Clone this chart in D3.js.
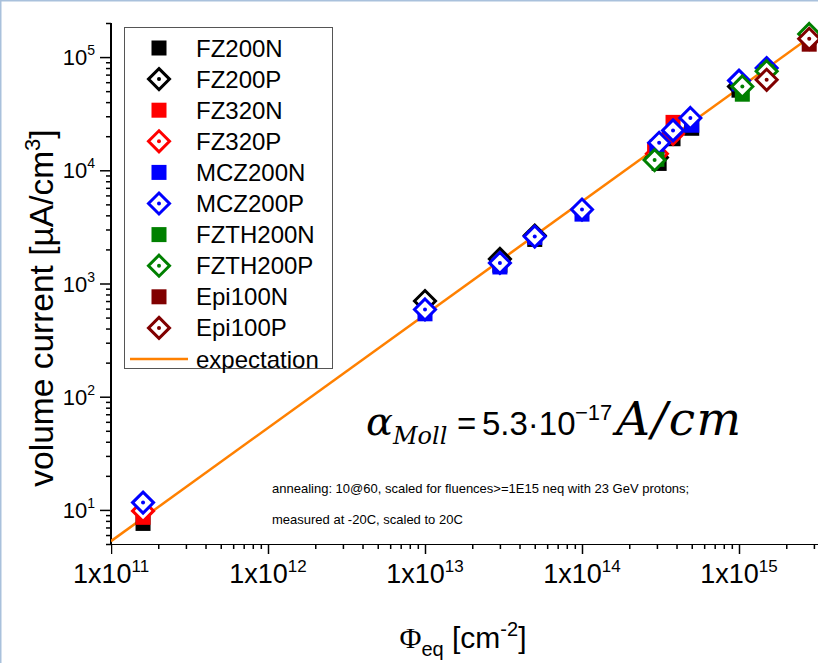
<!DOCTYPE html>
<html>
<head>
<meta charset="utf-8">
<script src="https://cdn.jsdelivr.net/npm/d3@7"></script>
<style>
  body { margin: 0; background: #fff; }
  svg { display: block; }
</style>
</head>
<body>
<svg id="chart" width="818" height="663"></svg>
<script>
// series: [fluence (cm^-2), volume current (uA/cm^3)]
const seriesNames = ["FZ200N", "FZ200P", "FZ320N", "FZ320P", "MCZ200N", "MCZ200P",
                     "FZTH200N", "FZTH200P", "Epi100N", "Epi100P"];
const seriesColors = ["#000000", "#000000", "#ff0000", "#ff0000", "#0000ff", "#0000ff",
                      "#008000", "#008000", "#800000", "#800000"];
const seriesFilled = [true, false, true, false, true, false, true, false, true, false];

const fz200n   = [[1.6e11, 7.6], [3e13, 1450], [5e13, 2450], [3.1e14, 11500], [3.8e14, 19000], [5e14, 23500], [1e15, 51000]];
const fz200p   = [[1e13, 700], [3e13, 1650], [5e13, 2650], [3e14, 13000], [1e15, 55000]];
const fz320n   = [[1.6e11, 8.6], [2.9e14, 15000], [3.8e14, 26500]];
const fz320p   = [[1.6e11, 9.8], [3e14, 14000], [3.8e14, 21000]];
const mcz200n  = [[1e13, 540], [3e13, 1400], [5e13, 2550], [1e14, 4100], [3e14, 16000], [5e14, 25000], [1e15, 58000], [1.5e15, 76000]];
const mcz200p  = [[1.6e11, 11.6], [1e13, 590], [3e13, 1520], [5e13, 2600], [1e14, 4500], [3.1e14, 17500], [3.8e14, 22500], [4.9e14, 29000], [1e15, 62000], [1.5e15, 80000]];
const fzth200n = [[3e14, 12500], [1.05e15, 47000], [1.5e15, 74000], [2.8e15, 150000]];
const fzth200p = [[2.9e14, 12300], [1.05e15, 55000], [1.5e15, 75000], [2.8e15, 160000]];
const epi100n  = [[2.8e15, 130000]];
const epi100p  = [[1.5e15, 63000], [2.8e15, 145000]];
const seriesData = [fz200n, fz200p, fz320n, fz320p, mcz200n, mcz200p, fzth200n, fzth200p, epi100n, epi100p];

const alphaMoll = 5.3e-17;          // A/cm
const xMajors = [1e11, 1e12, 1e13, 1e14, 1e15];
const yMajors = [1e1, 1e2, 1e3, 1e4, 1e5];

const svg = d3.select("#chart").attr("font-family", "Liberation Sans, Arial, sans-serif");
const width = 818, height = 663;

// window frame
svg.append("line").attr("x1", 0.5).attr("y1", 0).attr("x2", 0.5).attr("y2", height)
  .attr("stroke", "#a9c1dc").attr("stroke-width", 2);
svg.append("line").attr("x1", 0).attr("y1", 0.5).attr("x2", width).attr("y2", 0.5)
  .attr("stroke", "#a9c1dc").attr("stroke-width", 2);

const x0 = 111, y0 = 544;
const x = d3.scaleLog().domain([1e11, 5e15]).range([x0, x0 + 157 * Math.log10(5e4)]);
const y = d3.scaleLog().domain([5, 2e5]).range([y0, 23]);

svg.append("clipPath").attr("id", "plotclip")
  .append("rect").attr("x", x0).attr("y", 0).attr("width", width - x0).attr("height", y0 + 20);

// minor tick lists
function minors(lo, hi) {
  const out = [];
  for (let e = Math.floor(Math.log10(lo)); e <= Math.ceil(Math.log10(hi)); e++) {
    for (let m = 2; m <= 9; m++) {
      const v = m * Math.pow(10, e);
      if (v >= lo && v <= hi) out.push(v);
    }
  }
  return out;
}

// x axis
const gx = svg.append("g").attr("transform", `translate(0,${y0})`).attr("clip-path", "url(#plotclip)");
gx.append("g").call(d3.axisBottom(x).tickValues(minors(1e11, 5e15)).tickSize(5).tickFormat(""));
gx.append("g").call(d3.axisBottom(x).tickValues(xMajors).tickSize(10).tickFormat(""));
gx.selectAll(".domain").attr("stroke-width", 2).attr("d", `M${x0},0H${width + 10}`);
gx.selectAll(".tick line").attr("stroke-width", 1.5);

const xl = svg.append("g");
xMajors.forEach(v => {
  const t = xl.append("text").attr("x", x(v)).attr("y", y0 + 39)
    .attr("text-anchor", "middle").attr("font-size", 27);
  t.append("tspan").text("1x10");
  t.append("tspan").attr("font-size", 17).attr("dy", -11).text(Math.round(Math.log10(v)));
});

// y axis
const gy = svg.append("g").attr("transform", `translate(${x0},0)`);
gy.append("g").call(d3.axisLeft(y).tickValues(minors(5, 2e5)).tickSize(5).tickFormat(""));
gy.append("g").call(d3.axisLeft(y).tickValues(yMajors).tickSize(11).tickFormat(""));
gy.selectAll(".domain").attr("stroke-width", 2).attr("d", `M0,${y0 + 1}V${y(2e5)}`);
gy.selectAll(".tick line").attr("stroke-width", 1.5);

const yl = svg.append("g");
yMajors.forEach(v => {
  const t = yl.append("text").attr("x", 95).attr("y", y(v) + 8)
    .attr("text-anchor", "end").attr("font-size", 22);
  t.append("tspan").text("10");
  t.append("tspan").attr("font-size", 14).attr("dy", -10).text(Math.round(Math.log10(v)));
});

// axis titles
const ytitle = svg.append("text").attr("transform", "translate(53,308) rotate(-90)")
  .attr("text-anchor", "middle").attr("font-size", 33.5);
ytitle.append("tspan").text("volume current [\u00b5A/cm");
ytitle.append("tspan").attr("font-size", 22).attr("dy", -13).text("3");
ytitle.append("tspan").attr("dy", 13).text("]");

const xtitle = svg.append("text").attr("x", 463).attr("y", 648)
  .attr("text-anchor", "middle").attr("font-size", 30);
xtitle.append("tspan").attr("font-family", "Liberation Serif").text("\u03a6");
xtitle.append("tspan").attr("font-size", 20).attr("dy", 8).text("eq");
xtitle.append("tspan").attr("dy", -8).text(" [cm");
xtitle.append("tspan").attr("font-size", 20).attr("dy", -12).text("-2");
xtitle.append("tspan").attr("dy", 12).text("]");

// plot content
const plot = svg.append("g").attr("clip-path", "url(#plotclip)");

// expectation line
const phiLine = [1e11, 5e15];
plot.append("path")
  .datum(phiLine)
  .attr("fill", "none").attr("stroke", "#ff8000").attr("stroke-width", 2.5)
  .attr("d", d3.line().x(d => x(d)).y(d => y(alphaMoll * d * 1e6)));

function drawMarker(g, filled, color) {
  if (filled) {
    g.append("rect").attr("x", -7.5).attr("y", -7.5).attr("width", 15).attr("height", 15)
      .attr("fill", color);
  } else {
    g.append("path").attr("d", "M0,-10.5L10.5,0L0,10.5L-10.5,0Z")
      .attr("fill", "#fff").attr("stroke", color).attr("stroke-width", 3);
    g.append("circle").attr("r", 2).attr("fill", color);
  }
}

seriesData.forEach((data, i) => {
  const g = plot.append("g").attr("class", "series");
  g.selectAll("g.pt").data(data).enter().append("g").attr("class", "pt")
    .attr("transform", d => `translate(${x(d[0])},${y(d[1])})`)
    .each(function () { drawMarker(d3.select(this), seriesFilled[i], seriesColors[i]); });
});

// legend
const legend = svg.append("g");
legend.append("rect").attr("x", 124.5).attr("y", 27.5).attr("width", 208).attr("height", 341)
  .attr("fill", "#fff").attr("stroke", "#555").attr("stroke-width", 1);
const legendNames = seriesNames.concat(["expectation"]);
legendNames.forEach((name, i) => {
  const cy = 48 + i * 31.1;
  const g = legend.append("g").attr("transform", `translate(159,${cy})`);
  if (i < seriesNames.length) {
    drawMarker(g, seriesFilled[i], seriesColors[i]);
  } else {
    g.append("line").attr("x1", -29).attr("x2", 29).attr("stroke", "#ff8000").attr("stroke-width", 2.5);
  }
  legend.append("text").attr("x", 196).attr("y", cy + 8.5).attr("font-size", 24).text(name);
});

// annotation
const mathFont = "DejaVu Serif";
const ann = svg.append("g");
ann.append("text").attr("x", 366).attr("y", 435).attr("font-size", 40)
  .attr("font-family", mathFont).attr("font-style", "italic").text("\u03b1");
ann.append("text").attr("x", 393).attr("y", 444).attr("font-size", 24)
  .attr("font-family", mathFont).attr("font-style", "italic").text("Moll");
ann.append("text").attr("x", 457).attr("y", 435).attr("font-size", 33).text("=");
ann.append("text").attr("x", 482).attr("y", 435).attr("font-size", 33).text("5.3\u00b710");
ann.append("text").attr("x", 575).attr("y", 420).attr("font-size", 22).text("\u221217");
ann.append("text").attr("x", 616).attr("y", 435).attr("font-size", 47)
  .attr("letter-spacing", 1.5)
  .attr("font-family", mathFont).attr("font-style", "italic").text("A/cm");

ann.append("text").attr("x", 272).attr("y", 493).attr("font-size", 13)
  .text("annealing: 10@60, scaled for fluences>=1E15 neq with 23 GeV protons;");
ann.append("text").attr("x", 272).attr("y", 524).attr("font-size", 13)
  .text("measured at -20C, scaled to 20C");
</script>
</body>
</html>
